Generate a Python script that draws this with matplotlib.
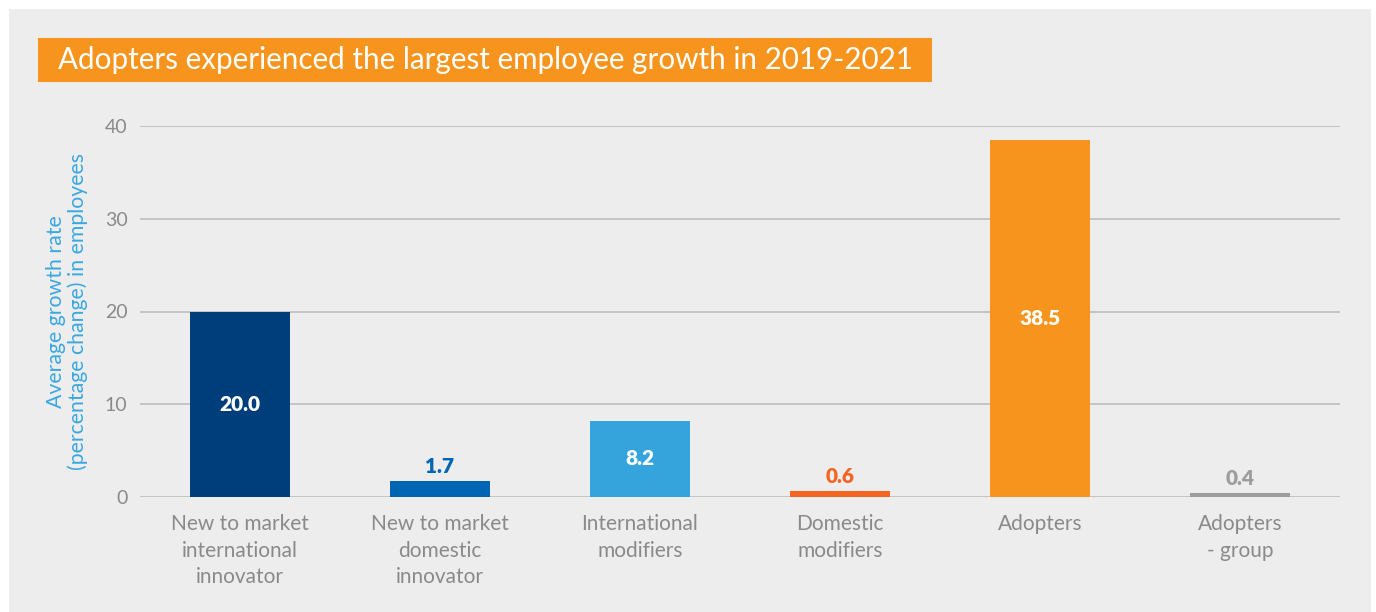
import matplotlib.pyplot as plt
from matplotlib.patches import Rectangle

# Data
categories = [
    "New to market\ninternational\ninnovator",
    "New to market\ndomestic\ninnovator",
    "International\nmodifiers",
    "Domestic\nmodifiers",
    "Adopters",
    "Adopters\n- group",
]
growth = [20.0, 1.7, 8.2, 0.6, 38.5, 0.4]
bar_colors = ["#003E7B", "#0066B3", "#35A3DC", "#F26522", "#F7941D", "#9D9D9F"]
label_inside = [True, False, True, False, True, False]
y_ticks = [0, 10, 20, 30, 40]
title = "Adopters experienced the largest employee growth in 2019-2021"
y_label = "Average growth rate\n(percentage change) in employees"

FONT = ["Lato", "DejaVu Sans"]
W, H = 1376, 612

fig = plt.figure(figsize=(W / 100, H / 100), dpi=100)
fig.patch.set_facecolor("white")

# Grey panel behind the chart
fig.patches.append(Rectangle((9 / W, 0), (1371 - 9) / W, 1 - 9 / H,
                             transform=fig.transFigure, facecolor="#EDEDED",
                             edgecolor="none", zorder=-5))

# Orange title banner
fig.patches.append(Rectangle((38 / W, 1 - 82 / H), (932 - 38) / W, 44 / H,
                             transform=fig.transFigure, facecolor="#F7941D",
                             edgecolor="none", zorder=-4))
fig.text(58 / W, 1 - 60 / H, title, color="white", fontsize=21.3,
         family=FONT, va="center", ha="left", zorder=2)

ax = fig.add_axes([140 / W, 1 - 497 / H, 1200 / W, (497 - 126) / H])
ax.set_facecolor("none")

x = list(range(len(categories)))
bars = ax.bar(x, growth, width=0.5, color=bar_colors, zorder=3)

ax.set_xlim(-0.5, len(categories) - 0.5)
ax.set_ylim(0, 40)
ax.set_yticks(y_ticks)
ax.yaxis.grid(True, color="#BDBDBD", linewidth=1.2, zorder=0)
ax.set_axisbelow(True)
for s in ax.spines.values():
    s.set_visible(False)
ax.tick_params(axis="both", length=0, colors="#8A8A8A")
ax.tick_params(axis="y", pad=9, labelsize=14)
ax.tick_params(axis="x", pad=12, labelsize=15)
ax.set_xticks(x)
ax.set_xticklabels(categories, family=FONT, linespacing=1.43)
for lbl in ax.get_yticklabels():
    lbl.set_family(FONT)

ax.set_ylabel(y_label, color="#3AA8E0", fontsize=15.3, family=FONT,
              linespacing=1.1, labelpad=12)

# Value labels
for xi, v, c, inside in zip(x, growth, bar_colors, label_inside):
    if inside:
        ax.text(xi, v / 2, f"{v:.1f}", ha="center", va="center", color="white",
                fontsize=15, fontweight="heavy", family=FONT, zorder=4)
    else:
        ax.annotate(f"{v:.1f}", (xi, v), xytext=(0, 4), textcoords="offset points",
                    ha="center", va="bottom", color=c, fontsize=15,
                    fontweight="heavy", family=FONT, zorder=4)

fig.savefig("out.png", dpi=100, facecolor=fig.get_facecolor())
